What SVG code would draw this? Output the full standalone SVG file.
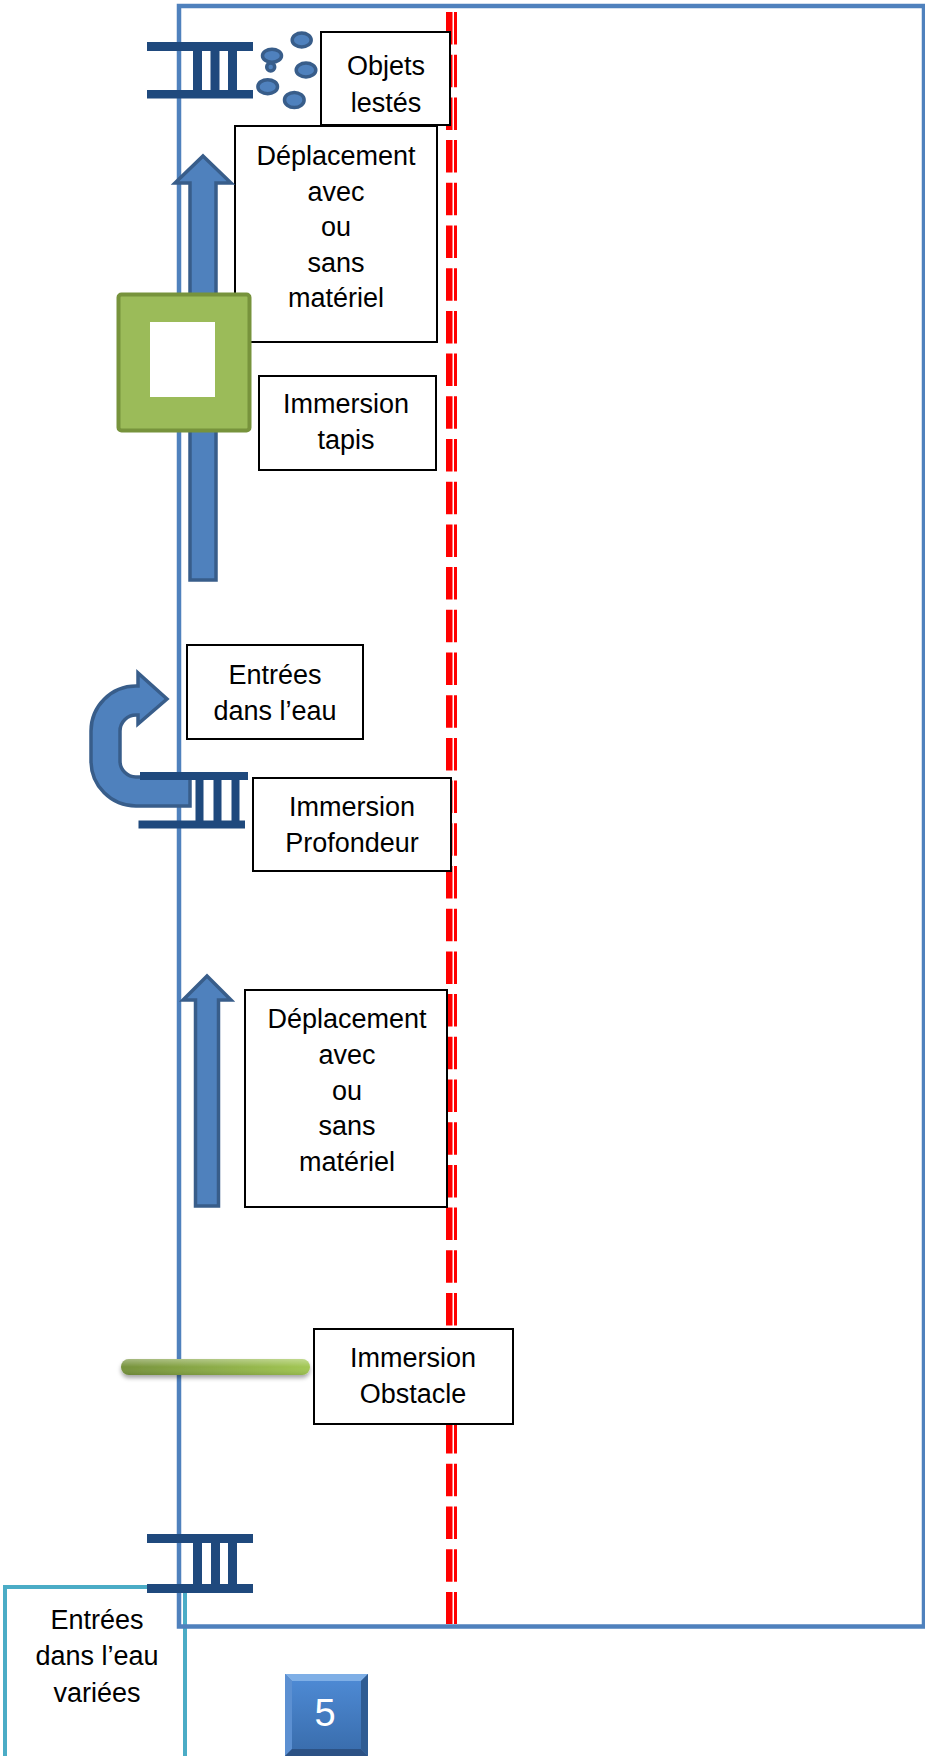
<svg xmlns="http://www.w3.org/2000/svg" width="925" height="1756" viewBox="0 0 925 1756">
<style>
.box{fill:#FFFFFF;stroke:#000000;stroke-width:2}
.t{font-family:"Liberation Sans",Arial,sans-serif;font-size:27px;fill:#000000;text-anchor:middle}
.lad{fill:#1F497D}
.obj{fill:#4F81BD;stroke:#385D8A;stroke-width:3.5}
.arr{fill:#4F81BD;stroke:#385D8A;stroke-width:3.5;stroke-linejoin:miter}
.red{stroke:#FF0000;stroke-dasharray:32.5 10.2;fill:none}
</style>
<defs>
<linearGradient id="gbar" x1="0" y1="0" x2="1" y2="0">
<stop offset="0" stop-color="#76923C"/>
<stop offset="1" stop-color="#A2C753"/>
</linearGradient>
<linearGradient id="gbarHi" x1="0" y1="0" x2="0" y2="1">
<stop offset="0" stop-color="#FFFFFF" stop-opacity="0.35"/>
<stop offset="0.5" stop-color="#FFFFFF" stop-opacity="0"/>
<stop offset="1" stop-color="#000000" stop-opacity="0.1"/>
</linearGradient>
<linearGradient id="gface" x1="0" y1="0" x2="0" y2="1">
<stop offset="0" stop-color="#4D89D3"/>
<stop offset="1" stop-color="#3A6EAE"/>
</linearGradient>
<filter id="shadow" x="-10%" y="-100%" width="120%" height="400%">
<feDropShadow dx="0" dy="3" stdDeviation="2" flood-color="#000000" flood-opacity="0.35"/>
</filter>
</defs>
<rect x="0" y="0" width="925" height="1756" fill="#FFFFFF"/>

<g id="node-entrees-variees">
<rect x="5" y="1587" width="180" height="180" fill="#FFFFFF" stroke="#4BACC6" stroke-width="4"/>
<text class="t" x="97" y="1629">Entrées</text>
<text class="t" x="97" y="1665">dans l’eau</text>
<text class="t" x="97" y="1702">variées</text>
</g>

<g id="pool">
<rect x="179" y="6" width="745" height="1620.5" fill="none" stroke="#4F81BD" stroke-width="4.5"/>
</g>

<g id="red-line">
<line class="red" x1="449.25" y1="12" x2="449.25" y2="1624" stroke-width="6.5"/>
<line class="red" x1="455.5" y1="12" x2="455.5" y2="1624" stroke-width="3"/>
</g>

<g id="ladder-top">
<rect class="lad" x="147" y="42" width="106" height="9"/>
<rect class="lad" x="147" y="90" width="106" height="8.5"/>
<rect class="lad" x="193" y="50" width="9" height="41"/>
<rect class="lad" x="210.5" y="50" width="9" height="41"/>
<rect class="lad" x="228" y="50" width="9" height="41"/>
</g>

<g id="objets">
<ellipse class="obj" cx="301.7" cy="40" rx="9.5" ry="7"/>
<ellipse class="obj" cx="270.7" cy="67" rx="4" ry="4"/>
<ellipse class="obj" cx="272" cy="55.7" rx="9.5" ry="6.5"/>
<ellipse class="obj" cx="306" cy="70" rx="9.8" ry="7"/>
<ellipse class="obj" cx="267.7" cy="86.7" rx="9.8" ry="7"/>
<ellipse class="obj" cx="294.3" cy="100" rx="9.8" ry="7.5"/>
</g>

<g id="node-objets-lestes">
<rect class="box" x="321" y="32" width="129" height="93"/>
<text class="t" x="386" y="75">Objets</text>
<text class="t" x="386" y="112">lestés</text>
</g>

<g id="node-deplacement-1">
<rect class="box" x="235" y="126" width="202" height="216"/>
<text class="t" x="336" y="165">Déplacement</text>
<text class="t" x="336" y="200.5">avec</text>
<text class="t" x="336" y="236">ou</text>
<text class="t" x="336" y="271.5">sans</text>
<text class="t" x="336" y="307">matériel</text>
</g>

<g id="connectors">
<path id="arrow-1" class="arr" d="M203,156 L231,183 L216,183 L216,580 L190,580 L190,183 L175,183 Z"/>
<path id="arrow-uturn" class="arr" d="M190,806 H136 A45,45 0 0 1 91,761 V731 A45,45 0 0 1 136,686 H138 V673 L167,699 L138,724 V715 H136 A16,16 0 0 0 120,731 V761 A16,16 0 0 0 136,777 H190 Z"/>
<path id="arrow-2" class="arr" d="M207,976 L231,1000 L218.5,1000 L218.5,1206 L195.5,1206 L195.5,1000 L183,1000 Z"/>
</g>

<g id="tapis">
<rect x="118.5" y="294.5" width="131" height="136" rx="3" fill="#9BBB59" stroke="#77933C" stroke-width="4"/>
<rect x="150" y="322" width="65" height="75" fill="#FFFFFF"/>
</g>

<g id="node-immersion-tapis">
<rect class="box" x="259" y="376" width="177" height="94"/>
<text class="t" x="346" y="413">Immersion</text>
<text class="t" x="346" y="449">tapis</text>
</g>

<g id="node-entrees">
<rect class="box" x="187" y="645" width="176" height="94"/>
<text class="t" x="275" y="684">Entrées</text>
<text class="t" x="275" y="720">dans l’eau</text>
</g>

<g id="ladder-middle">
<rect class="lad" x="140" y="772" width="108" height="8"/>
<rect class="lad" x="138.5" y="820.5" width="106.5" height="8"/>
<rect class="lad" x="195.5" y="779" width="8" height="42"/>
<rect class="lad" x="213.5" y="779" width="8" height="42"/>
<rect class="lad" x="231.5" y="779" width="8" height="42"/>
</g>

<g id="node-immersion-profondeur">
<rect class="box" x="253" y="778" width="198" height="93"/>
<text class="t" x="352" y="816">Immersion</text>
<text class="t" x="352" y="852">Profondeur</text>
</g>

<g id="node-deplacement-2">
<rect class="box" x="245" y="990" width="202" height="217"/>
<text class="t" x="347" y="1028">Déplacement</text>
<text class="t" x="347" y="1064">avec</text>
<text class="t" x="347" y="1099.5">ou</text>
<text class="t" x="347" y="1135">sans</text>
<text class="t" x="347" y="1171">matériel</text>
</g>

<g id="obstacle">
<rect x="121" y="1359" width="189" height="16" rx="8" fill="url(#gbar)" filter="url(#shadow)"/>
<rect x="121" y="1359" width="189" height="16" rx="8" fill="url(#gbarHi)"/>
</g>

<g id="node-immersion-obstacle">
<rect class="box" x="314" y="1329" width="199" height="95"/>
<text class="t" x="413" y="1367">Immersion</text>
<text class="t" x="413" y="1403">Obstacle</text>
</g>

<g id="ladder-bottom">
<rect class="lad" x="147" y="1534" width="106" height="9"/>
<rect class="lad" x="147" y="1584" width="106" height="9"/>
<rect class="lad" x="193" y="1542" width="9" height="43"/>
<rect class="lad" x="211" y="1542" width="9" height="43"/>
<rect class="lad" x="228" y="1542" width="9" height="43"/>
</g>

<g id="node-5">
<rect x="285" y="1674" width="83" height="82" fill="#4A7EBB"/>
<polygon points="285,1674 368,1674 361,1681 292,1681" fill="#7FAFE6"/>
<polygon points="285,1674 292,1681 292,1749 285,1756" fill="#5C90D2"/>
<polygon points="368,1674 361,1681 361,1749 368,1756" fill="#2F5C93"/>
<polygon points="285,1756 292,1749 361,1749 368,1756" fill="#2C5285"/>
<rect x="292" y="1681" width="69" height="68" fill="url(#gface)"/>
<text x="325" y="1726" font-family="Liberation Sans, Arial, sans-serif" font-size="38" fill="#FFFFFF" text-anchor="middle">5</text>
</g>
</svg>
